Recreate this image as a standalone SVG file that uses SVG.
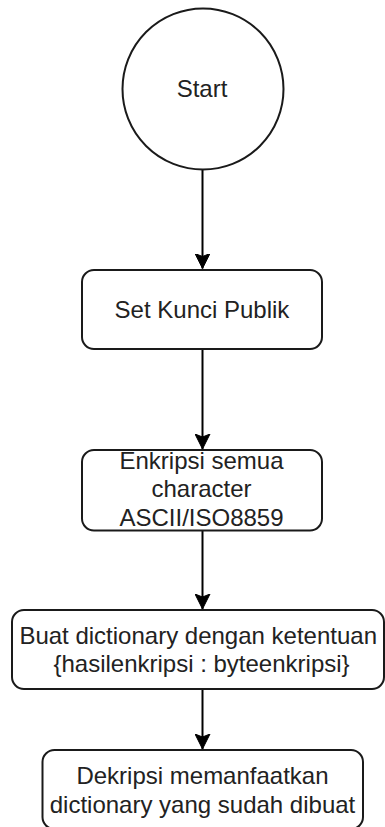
<svg xmlns="http://www.w3.org/2000/svg" width="385" height="827" viewBox="0 0 385 827">
  <style>
    .shape { fill: #ffffff; stroke: #1a1a1a; stroke-width: 2; }
    .label { font-family: "Liberation Sans", Arial, sans-serif; font-size: 24px; fill: #222222; text-anchor: middle; }
    .edge { fill: none; stroke: #000000; stroke-width: 2; }
  </style>
  <defs>
    <marker id="arrow" markerUnits="userSpaceOnUse" markerWidth="16" markerHeight="16" viewBox="0 0 16 16" refX="15" refY="8" orient="auto">
      <path d="M0,0.5 L15,8 L0,15.5 L3,8 Z" fill="#000000" stroke="#000000" stroke-width="1"/>
    </marker>
  </defs>
  <rect width="385" height="827" fill="#ffffff"/>

  <g id="connectors">
    <line class="edge" x1="202.5" y1="170" x2="202.5" y2="268.5" marker-end="url(#arrow)"/>
    <line class="edge" x1="202.5" y1="349" x2="202.5" y2="449" marker-end="url(#arrow)"/>
    <line class="edge" x1="202.5" y1="531" x2="202.5" y2="609" marker-end="url(#arrow)"/>
    <line class="edge" x1="202.5" y1="689" x2="202.5" y2="749" marker-end="url(#arrow)"/>
  </g>

  <g id="start">
    <circle class="shape" cx="203" cy="89" r="80.5"/>
    <text class="label" x="202" y="97">Start</text>
  </g>

  <g id="set-kunci">
    <rect class="shape" x="82" y="270" width="240" height="79" rx="12" ry="12"/>
    <text class="label" x="202" y="317.5">Set Kunci Publik</text>
  </g>

  <g id="enkripsi">
    <rect class="shape" x="82" y="450" width="240" height="80.5" rx="12" ry="12"/>
    <text class="label" x="201.5" y="468.5">Enkripsi semua</text>
    <text class="label" x="201.5" y="497">character</text>
    <text class="label" x="201.5" y="525.8">ASCII/ISO8859</text>
  </g>

  <g id="dictionary">
    <rect class="shape" x="12" y="610" width="372" height="79" rx="12" ry="12"/>
    <text class="label" x="198.2" y="643.5">Buat dictionary dengan ketentuan</text>
    <text class="label" x="201.5" y="671.5">{hasilenkripsi : byteenkripsi}</text>
  </g>

  <g id="dekripsi">
    <rect class="shape" x="42.5" y="750" width="320.5" height="79" rx="12" ry="12"/>
    <text class="label" x="202.5" y="783.5">Dekripsi memanfaatkan</text>
    <text class="label" x="202.5" y="812.5">dictionary yang sudah dibuat</text>
  </g>
</svg>
